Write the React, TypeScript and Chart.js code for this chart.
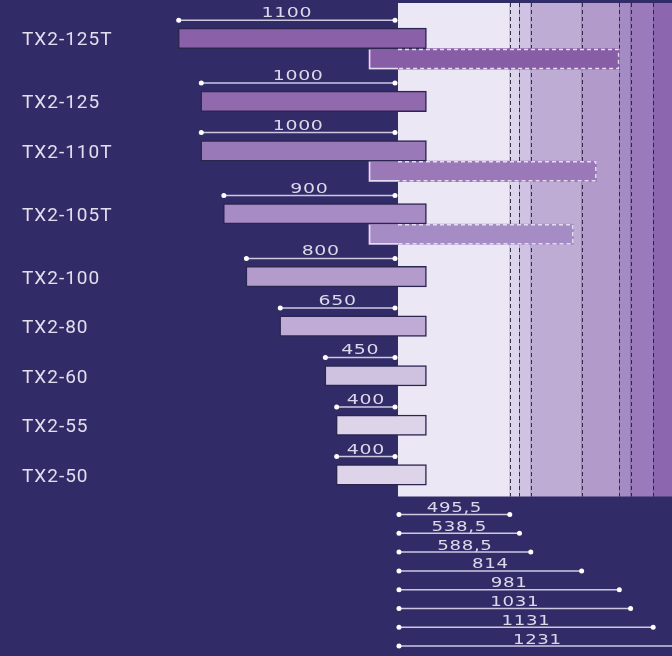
import React, { useEffect, useRef } from "react";
import { Chart, registerables } from "chart.js";

Chart.register(...registerables);

// ---- data ----
const models = ["TX2-125T", "TX2-125", "TX2-110T", "TX2-105T", "TX2-100", "TX2-80", "TX2-60", "TX2-55", "TX2-50"];
const lengths = [1100, 1000, 1000, 900, 800, 650, 450, 400, 400];
const secondEnds: (number | null)[] = [981, null, 880, 778, null, null, null, null, null];
const reachValues = [495.5, 538.5, 588.5, 814, 981, 1031, 1131, 1231];
const reachLabels = ["495,5", "538,5", "588,5", "814", "981", "1031", "1131", "1231"];

// ---- constants (layout / style) ----
const MAIN_END = 126;
const SECOND_START = -129;
const T_ROW_EXTRA = 0.27;
const SUB_OFFSET = 0.414;
const BAR_PX = 20.5;

const barColors = ["#8a60a8", "#9169ad", "#9a79b8", "#a68bc4", "#b39ccb", "#bfabd5", "#cfc2e1", "#ddd4ea", "#ddd4ea"];
const secondColors = ["#875da5", null, "#9b79b8", "#a68cc4", null, null, null, null, null];
const bandColors = ["#ebe7f4", "#ddd5eb", "#cfc2e2", "#bfacd5", "#b29bca", "#a58bc3", "#9a7aba", "#8c66af"];
const BG = "#312c67";

const rowPos: number[] = [];
{
  let p = 0;
  models.forEach((_, i) => {
    rowPos.push(p);
    p += secondEnds[i] != null ? 1 + T_ROW_EXTRA : 1;
  });
}

function drawWide(ctx: CanvasRenderingContext2D, text: string, cx: number, by: number, sx: number) {
  ctx.save();
  ctx.translate(cx, by);
  ctx.scale(sx, 1);
  ctx.textAlign = "center";
  ctx.textBaseline = "alphabetic";
  ctx.fillText(text, 0, 0);
  ctx.restore();
}

function dimLine(ctx: CanvasRenderingContext2D, l: number, r: number, y: number) {
  ctx.save();
  ctx.strokeStyle = "#cdc8e0";
  ctx.lineWidth = 1.5;
  ctx.setLineDash([]);
  ctx.beginPath();
  ctx.moveTo(l, y);
  ctx.lineTo(r, y);
  ctx.stroke();
  ctx.fillStyle = "#ffffff";
  [l, r].forEach((px) => {
    ctx.beginPath();
    ctx.arc(px, y, 2.5, 0, Math.PI * 2);
    ctx.fill();
  });
  ctx.restore();
}

const diagramPlugin = {
  id: "diagram",
  beforeDatasetsDraw(chart: any) {
    const { ctx, chartArea: a, scales } = chart;
    const x = scales.x;
    const edges = [0, ...reachValues];
    ctx.save();
    for (let i = 0; i < bandColors.length; i++) {
      const l = x.getPixelForValue(edges[i]);
      const r = Math.min(x.getPixelForValue(edges[i + 1]), a.right);
      ctx.fillStyle = bandColors[i];
      ctx.fillRect(l, a.top, r - l, a.bottom - a.top);
    }
    ctx.strokeStyle = "rgba(38,30,58,0.9)";
    ctx.lineWidth = 1;
    ctx.setLineDash([4, 3]);
    reachValues.forEach((v) => {
      const px = Math.round(x.getPixelForValue(v)) + 0.5;
      if (px < a.right) {
        ctx.beginPath();
        ctx.moveTo(px, a.top);
        ctx.lineTo(px, a.bottom);
        ctx.stroke();
      }
    });
    ctx.restore();
  },
  afterDatasetsDraw(chart: any) {
    const { ctx, chartArea: a, scales } = chart;
    const x = scales.x;
    const x0 = x.getPixelForValue(0);

    // second bar borders
    const meta2 = chart.getDatasetMeta(1);
    meta2.data.forEach((el: any) => {
      const p = el.getProps(["x", "base", "y", "height"], true);
      const l = Math.min(p.x, p.base);
      const r = Math.max(p.x, p.base);
      const t = p.y - p.height / 2;
      const b = p.y + p.height / 2;
      ctx.save();
      ctx.strokeStyle = "#e4ddf0";
      ctx.lineWidth = 1.5;
      ctx.beginPath();
      ctx.moveTo(l + 0.75, t + 1);
      ctx.lineTo(l + 0.75, b - 0.75);
      ctx.lineTo(x0, b - 0.75);
      ctx.stroke();
      ctx.setLineDash([4, 3]);
      ctx.beginPath();
      ctx.moveTo(x0, t + 0.75);
      ctx.lineTo(r - 0.75, t + 0.75);
      ctx.lineTo(r - 0.75, b - 0.75);
      ctx.lineTo(x0, b - 0.75);
      ctx.stroke();
      ctx.restore();
    });

    // main bar dimension lines, labels
    const meta1 = chart.getDatasetMeta(0);
    meta1.data.forEach((el: any, i: number) => {
      const p = el.getProps(["x", "base", "y", "height"], true);
      const l = Math.min(p.x, p.base) + 0.5;
      const r = x0 - 3;
      const top = p.y - p.height / 2;
      const ly = top - 8;
      dimLine(ctx, l, r, ly);
      ctx.save();
      ctx.fillStyle = "#dcd8ea";
      ctx.font = "14px 'DejaVu Sans'";
      (ctx as any).letterSpacing = "0.5px";
      drawWide(ctx, String(lengths[i]), (l + r) / 2, ly - 3, 1.35);
      ctx.restore();

      ctx.save();
      ctx.fillStyle = "#e2deee";
      ctx.font = "19px Roboto";
      (ctx as any).letterSpacing = "1px";
      ctx.textAlign = "left";
      ctx.textBaseline = "alphabetic";
      ctx.fillText(models[i], 22, p.y + 7);
      ctx.restore();
    });

    // bottom reach dimension lines
    reachValues.forEach((v, i) => {
      const y = a.bottom + 18 + i * 18.8;
      const l = x0 + 1;
      const r = x.getPixelForValue(v);
      dimLine(ctx, l, r, y);
      ctx.save();
      ctx.fillStyle = "#dcd8ea";
      ctx.font = "14px 'DejaVu Sans'";
      (ctx as any).letterSpacing = "0.5px";
      drawWide(ctx, reachLabels[i], (l + r) / 2, y - 2.5, 1.3);
      ctx.restore();
    });
  },
};

export default function App() {
  const ref = useRef<HTMLCanvasElement | null>(null);
  useEffect(() => {
    document.body.style.margin = "0";
    document.body.style.background = BG;
    const canvas = ref.current;
    if (!canvas) return;
    const mainData = models.map((_, i) => ({ x: [MAIN_END - lengths[i], MAIN_END], y: rowPos[i] }));
    const secIdx = models.map((_, i) => i).filter((i) => secondEnds[i] != null);
    const secData = secIdx.map((i) => ({ x: [SECOND_START, secondEnds[i] as number], y: rowPos[i] + SUB_OFFSET }));
    const chart = new Chart(canvas, {
      type: "bar",
      data: {
        datasets: [
          {
            label: "main",
            data: mainData as any,
            backgroundColor: barColors,
            borderColor: "#2b2650",
            borderWidth: 1.5,
            borderSkipped: false,
            barThickness: BAR_PX,
            grouped: false,
          } as any,
          {
            label: "second",
            data: secData as any,
            backgroundColor: secIdx.map((i) => secondColors[i]),
            borderWidth: 0,
            barThickness: BAR_PX,
            grouped: false,
          } as any,
        ],
      },
      options: {
        indexAxis: "y",
        animation: false,
        responsive: false,
        devicePixelRatio: 1,
        layout: { padding: { top: 3, bottom: 159.5, left: 0, right: 0 } },
        plugins: { legend: { display: false }, tooltip: { enabled: false } },
        scales: {
          x: { type: "linear", min: -1764, max: 1214.5, display: false, offset: false },
          y: { type: "linear", min: -0.715, max: 9.248, reverse: true, display: false, offset: false },
        },
      },
      plugins: [diagramPlugin],
    });
    return () => chart.destroy();
  }, []);
  return (
    <div style={{ width: 672, height: 656, background: BG }}>
      <canvas ref={ref} width={672} height={656} style={{ display: "block" }} />
    </div>
  );
}
